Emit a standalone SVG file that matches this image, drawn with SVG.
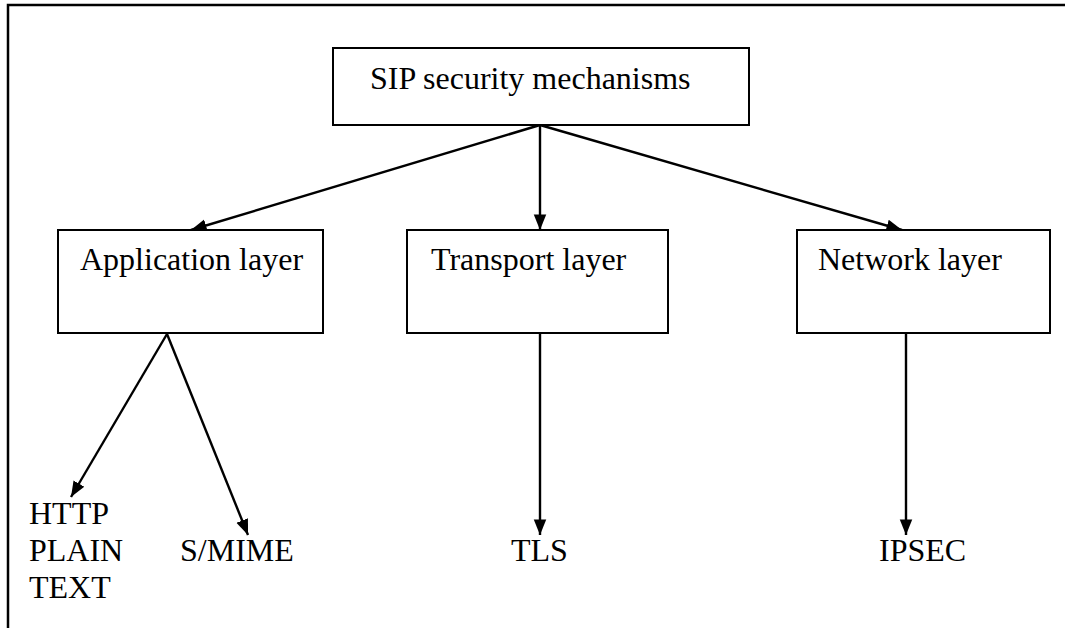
<svg xmlns="http://www.w3.org/2000/svg" width="1065" height="628" viewBox="0 0 1065 628">
<style>
.box{fill:#fff;stroke:#000;stroke-width:2}
.t{font-family:"Liberation Serif","Times New Roman",serif;font-size:32px;fill:#000}
.c{stroke:#000;stroke-width:2.4;fill:none;marker-end:url(#ah)}
</style>
<defs>
<marker id="ah" viewBox="0 0 10 10" refX="10" refY="5" markerWidth="6.5" markerHeight="6.5" markerUnits="strokeWidth" orient="auto">
<path d="M0,1 L10,5 L0,9 z" fill="#000"/>
</marker>
</defs>
<rect width="1065" height="628" fill="#fff"/>
<polyline points="8,628 8,5 1065,5" fill="none" stroke="#000" stroke-width="2.5"/>
<g id="connectors">
<line class="c" x1="540" y1="125" x2="191" y2="230"/>
<line class="c" x1="540" y1="125" x2="540" y2="230"/>
<line class="c" x1="540" y1="125" x2="902" y2="230"/>
<line class="c" x1="167" y1="334" x2="71" y2="497"/>
<line class="c" x1="167" y1="334" x2="248" y2="535"/>
<line class="c" x1="540" y1="334" x2="540" y2="535"/>
<line class="c" x1="906" y1="334" x2="906" y2="535"/>
</g>
<g id="root">
<rect class="box" x="333" y="48" width="416" height="77"/>
<text class="t" x="370" y="89">SIP security mechanisms</text>
</g>
<g id="app">
<rect class="box" x="58" y="230" width="265" height="103"/>
<text class="t" x="80" y="270">Application layer</text>
</g>
<g id="transport">
<rect class="box" x="407" y="230" width="261" height="103"/>
<text class="t" x="431" y="270">Transport layer</text>
</g>
<g id="network">
<rect class="box" x="797" y="230" width="253" height="103"/>
<text class="t" x="818" y="270">Network layer</text>
</g>
<g id="http">
<text class="t" x="29" y="524">HTTP</text>
<text class="t" x="29" y="561">PLAIN</text>
<text class="t" x="29" y="598">TEXT</text>
</g>
<g id="smime"><text class="t" x="180" y="561">S/MIME</text></g>
<g id="tls"><text class="t" x="511" y="561">TLS</text></g>
<g id="ipsec"><text class="t" x="879" y="561">IPSEC</text></g>
</svg>
